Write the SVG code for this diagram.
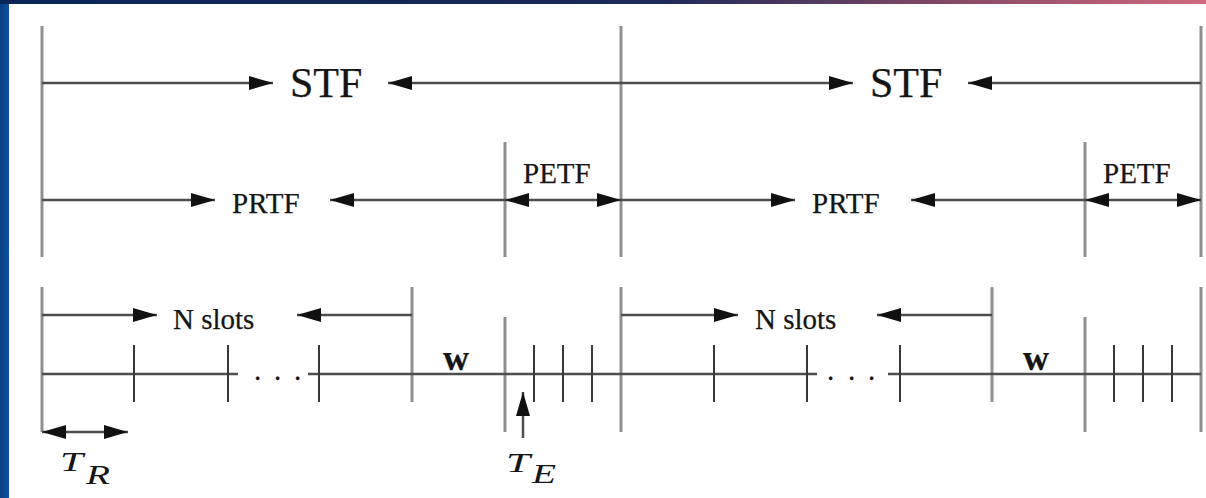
<svg xmlns="http://www.w3.org/2000/svg" width="1206" height="498" viewBox="0 0 1206 498">
<defs>
<linearGradient id="topbar" x1="0" y1="0" x2="1" y2="0">
<stop offset="0" stop-color="#0a2456"/>
<stop offset="0.55" stop-color="#1d2a5c"/>
<stop offset="0.8" stop-color="#8a4a66"/>
<stop offset="1" stop-color="#d06a80"/>
</linearGradient>
<linearGradient id="side" x1="0" y1="0" x2="1" y2="0">
<stop offset="0" stop-color="#0a3f85"/>
<stop offset="1" stop-color="#0c52a3"/>
</linearGradient>
<marker id="ah" viewBox="0 0 24 14" refX="24" refY="7" markerWidth="24" markerHeight="14" markerUnits="userSpaceOnUse" orient="auto-start-reverse">
<path d="M0,0 L24,7 L0,14 Z" fill="#111"/>
</marker>
</defs>
<style>
.h{stroke:#4d4d4d;stroke-width:2.5;fill:none}
.a{marker-end:url(#ah)}
.b{marker-start:url(#ah);marker-end:url(#ah)}
.v{stroke:#8f8f8f;stroke-width:3;fill:none}
.t{stroke:#383838;stroke-width:2;fill:none}
.lbl{font-family:"Liberation Serif","Times New Roman",serif;fill:#151515;stroke:#151515;stroke-width:0.25}
.big{font-size:42px}
.med{font-size:29px}
.w{font-size:36px;font-weight:bold}
.m{font-size:28px;font-style:italic;stroke:none}
</style>
<rect x="0" y="0" width="1206" height="498" fill="#ffffff"/>
<rect x="0" y="0" width="9" height="498" fill="url(#side)"/>
<rect x="0" y="0" width="1206" height="4" fill="url(#topbar)"/>

<g id="frame-lines">
<line class="v" x1="42" y1="26" x2="42" y2="257"/>
<line class="v" x1="42" y1="287" x2="42" y2="432"/>
<line class="v" x1="621" y1="26" x2="621" y2="257"/>
<line class="v" x1="621" y1="287" x2="621" y2="432"/>
<line class="v" x1="1201" y1="26" x2="1201" y2="257"/>
<line class="v" x1="1201" y1="287" x2="1201" y2="432"/>
<line class="v" x1="505" y1="142" x2="505" y2="257"/>
<line class="v" x1="505" y1="317" x2="505" y2="432"/>
<line class="v" x1="1085" y1="142" x2="1085" y2="257"/>
<line class="v" x1="1085" y1="317" x2="1085" y2="432"/>
<line class="v" x1="412" y1="287" x2="412" y2="402"/>
<line class="v" x1="992" y1="287" x2="992" y2="402"/>
</g>

<g id="timeline">
<line class="h" x1="42" y1="374" x2="238" y2="374"/>
<line class="h" x1="308" y1="374" x2="817" y2="374"/>
<line class="h" x1="888" y1="374" x2="1201" y2="374"/>
<line class="t" x1="134" y1="345" x2="134" y2="402"/>
<line class="t" x1="228" y1="345" x2="228" y2="402"/>
<line class="t" x1="319" y1="345" x2="319" y2="402"/>
<line class="t" x1="714" y1="345" x2="714" y2="402"/>
<line class="t" x1="807" y1="345" x2="807" y2="402"/>
<line class="t" x1="900" y1="345" x2="900" y2="402"/>
<line class="t" x1="534" y1="345" x2="534" y2="402"/>
<line class="t" x1="563" y1="345" x2="563" y2="402"/>
<line class="t" x1="592" y1="345" x2="592" y2="402"/>
<line class="t" x1="1114" y1="345" x2="1114" y2="402"/>
<line class="t" x1="1143" y1="345" x2="1143" y2="402"/>
<line class="t" x1="1172" y1="345" x2="1172" y2="402"/>
</g>

<g id="connectors">
<line class="h a" x1="42" y1="83" x2="273" y2="83"/>
<line class="h a" x1="621" y1="83" x2="388" y2="83"/>
<line class="h a" x1="621" y1="83" x2="853" y2="83"/>
<line class="h a" x1="1201" y1="83" x2="968" y2="83"/>
<line class="h a" x1="42" y1="200" x2="215" y2="200"/>
<line class="h a" x1="505" y1="200" x2="330" y2="200"/>
<line class="h b" x1="505" y1="200" x2="621" y2="200"/>
<line class="h a" x1="621" y1="200" x2="795" y2="200"/>
<line class="h a" x1="1085" y1="200" x2="911" y2="200"/>
<line class="h b" x1="1085" y1="200" x2="1201" y2="200"/>
<line class="h a" x1="42" y1="315" x2="157" y2="315"/>
<line class="h a" x1="412" y1="315" x2="297" y2="315"/>
<line class="h a" x1="621" y1="315" x2="738" y2="315"/>
<line class="h a" x1="992" y1="315" x2="877" y2="315"/>
<line class="h b" x1="42" y1="432" x2="128" y2="432"/>
<line class="h a" x1="523" y1="438" x2="523" y2="392"/>
</g>

<g id="stf1"><text class="lbl big" x="290" y="97">STF</text></g>
<g id="stf2"><text class="lbl big" x="870" y="97">STF</text></g>
<g id="prtf1"><text class="lbl med" x="232" y="213">PRTF</text></g>
<g id="prtf2"><text class="lbl med" x="812" y="213">PRTF</text></g>
<g id="petf1"><text class="lbl med" x="523" y="183">PETF</text></g>
<g id="petf2"><text class="lbl med" x="1103" y="183">PETF</text></g>
<g id="nslots1"><text class="lbl med" x="173" y="329">N slots</text></g>
<g id="nslots2"><text class="lbl med" x="755" y="329">N slots</text></g>
<g id="dots1"><text class="lbl med" x="254 274 294" y="380">...</text></g>
<g id="dots2"><text class="lbl med" x="827 848 868" y="380">...</text></g>
<g id="w1"><text class="lbl w" x="443" y="370">w</text></g>
<g id="w2"><text class="lbl w" x="1023" y="370">w</text></g>
<g id="tr"><text class="lbl m" x="60" y="471" textLength="23" lengthAdjust="spacingAndGlyphs">T</text><text class="lbl m" x="86" y="484" textLength="24" lengthAdjust="spacingAndGlyphs">R</text></g>
<g id="te"><text class="lbl m" x="506" y="472" textLength="24" lengthAdjust="spacingAndGlyphs">T</text><text class="lbl m" x="532" y="483" textLength="24" lengthAdjust="spacingAndGlyphs">E</text></g>
</svg>
